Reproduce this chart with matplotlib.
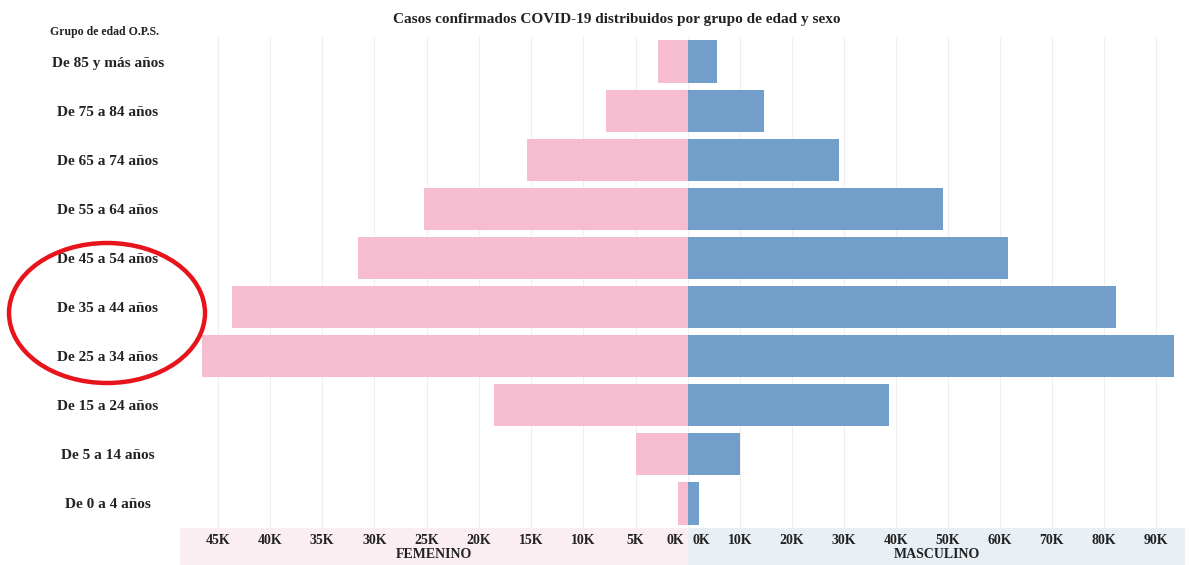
import matplotlib
matplotlib.use("Agg")
import matplotlib.pyplot as plt
import matplotlib.transforms as mtransforms
from matplotlib.patches import Rectangle, Ellipse

# Age groups (bottom to top) and confirmed cases in thousands
age_groups = [
    "De 0 a 4 años", "De 5 a 14 años", "De 15 a 24 años", "De 25 a 34 años",
    "De 35 a 44 años", "De 45 a 54 años", "De 55 a 64 años", "De 65 a 74 años",
    "De 75 a 84 años", "De 85 y más años",
]
femenino = [1.0, 5.0, 18.6, 46.5, 43.6, 31.6, 25.3, 15.4, 7.8, 2.9]
masculino = [2.1, 10.0, 38.7, 93.5, 82.3, 61.5, 49.0, 29.0, 14.6, 5.6]

fem_ticks = [0, 5, 10, 15, 20, 25, 30, 35, 40, 45]
mas_ticks = [0, 10, 20, 30, 40, 50, 60, 70, 80, 90]

title = "Casos confirmados COVID-19 distribuidos por grupo de edad y sexo"
group_header = "Grupo de edad O.P.S."

PINK = "#F6BDD1"
BLUE = "#729FC9"
PINK_BAND = "#FBEEF3"
BLUE_BAND = "#E8F0F6"
SERIF = "Liberation Serif"
TXT = "#222222"
FS = 11
FS_X = 10

W, H = 1189, 565
fig = plt.figure(figsize=(W / 100, H / 100), dpi=100)
fig.patch.set_facecolor("white")

def fx(px):
    return px / W

def fy(py):
    return 1 - py / H

top, bottom = 37, 528
mid, left_edge, right_edge = 688, 180, 1185

# Shaded bands behind the x-axis labels (drawn first, underneath everything)
fig.patches.append(Rectangle((fx(left_edge), 0), fx(mid - left_edge), fy(bottom),
                             transform=fig.transFigure, facecolor=PINK_BAND,
                             edgecolor="none", zorder=-5))
fig.patches.append(Rectangle((fx(mid), 0), fx(right_edge - mid), fy(bottom),
                             transform=fig.transFigure, facecolor=BLUE_BAND,
                             edgecolor="none", zorder=-5))

ax_f = fig.add_axes([fx(left_edge), fy(bottom), fx(mid - left_edge), (bottom - top) / H])
ax_m = fig.add_axes([fx(mid), fy(bottom), fx(right_edge - mid), (bottom - top) / H])

ypos = list(range(len(age_groups)))
ax_f.barh(ypos, femenino, height=0.86, color=PINK, zorder=2)
ax_m.barh(ypos, masculino, height=0.86, color=BLUE, zorder=2)

ax_f.set_xlim(48.6, 0)
ax_m.set_xlim(0, 95.6)
for ax in (ax_f, ax_m):
    ax.set_ylim(-0.5, len(age_groups) - 0.5)
    ax.set_facecolor("none")
    for s in ax.spines.values():
        s.set_visible(False)
    ax.grid(axis="x", color="#EFEFEF", linewidth=0.8, zorder=0)
    ax.set_axisbelow(True)

ax_f.set_xticks(fem_ticks, [f"{v}K" for v in fem_ticks])
ax_m.set_xticks(mas_ticks, [f"{v}K" for v in mas_ticks])
for ax in (ax_f, ax_m):
    ax.tick_params(axis="x", length=0, pad=4)
    for lbl in ax.get_xticklabels():
        lbl.set_fontfamily(SERIF)
        lbl.set_fontweight("bold")
        lbl.set_fontsize(FS_X)
        lbl.set_color(TXT)

# Keep the two "0K" labels apart at the centre line
shift = 3 / 72
zero_f = ax_f.get_xticklabels()[0]
zero_f.set_ha("right")
zero_f.set_transform(zero_f.get_transform()
                     + mtransforms.ScaledTranslation(-shift, 0, fig.dpi_scale_trans))
zero_m = ax_m.get_xticklabels()[0]
zero_m.set_ha("left")
zero_m.set_transform(zero_m.get_transform()
                     + mtransforms.ScaledTranslation(shift, 0, fig.dpi_scale_trans))

ax_f.set_yticks(ypos, age_groups)
ax_f.tick_params(axis="y", length=0, pad=52)
for lbl in ax_f.get_yticklabels():
    lbl.set_ha("center")
    lbl.set_fontfamily(SERIF)
    lbl.set_fontweight("bold")
    lbl.set_fontsize(FS)
    lbl.set_color(TXT)
ax_m.set_yticks([])

fig.text(fx((left_edge + mid) / 2), fy(555), "FEMENINO", ha="center", va="center",
         fontfamily=SERIF, fontweight="bold", fontsize=FS_X, color=TXT)
fig.text(fx((mid + right_edge) / 2), fy(555), "MASCULINO", ha="center", va="center",
         fontfamily=SERIF, fontweight="bold", fontsize=FS_X, color=TXT)

fig.text(fx(617), fy(19), title, ha="center", va="center",
         fontfamily=SERIF, fontweight="bold", fontsize=FS, color=TXT)
fig.text(fx(50), fy(32), group_header, ha="left", va="center",
         fontfamily=SERIF, fontweight="bold", fontsize=8.5, color=TXT)

# Red ellipse highlighting the 25-44 age groups
fig.patches.append(Ellipse((fx(107), fy(313)), fx(196), 140 / H,
                           transform=fig.transFigure, facecolor="none",
                           edgecolor="#E8141B", linewidth=3.2, zorder=5))

fig.savefig("out.png", dpi=100)
